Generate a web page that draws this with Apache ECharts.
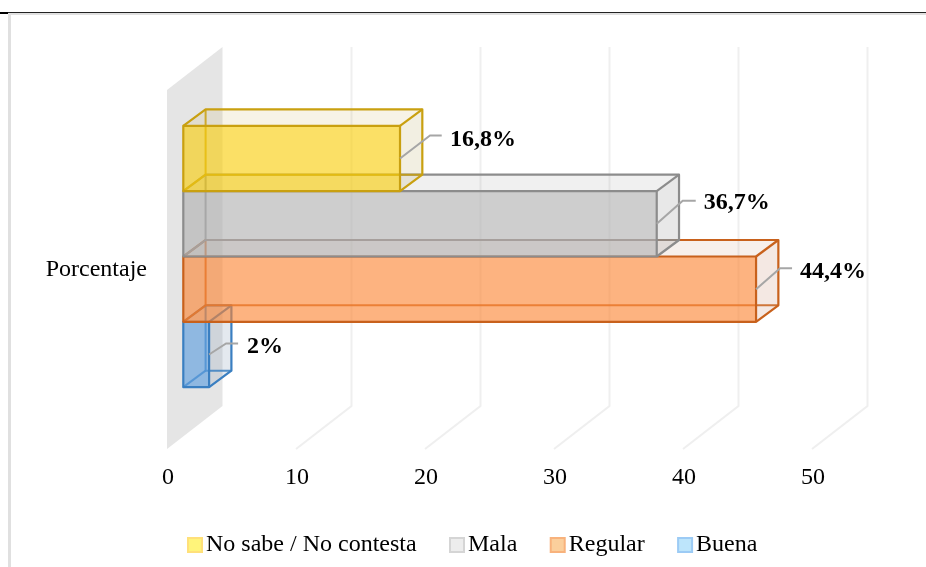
<!DOCTYPE html>
<html>
<head>
<meta charset="utf-8">
<style>html,body{margin:0;padding:0;background:#fff}#c{width:926px;height:567px}</style>
<script src="https://cdn.jsdelivr.net/npm/echarts@6/dist/echarts.min.js"></script>
</head>
<body>
<div id="c"></div>
<script>
const categories = ['Porcentaje'];
const seriesNames = ['No sabe / No contesta', 'Mala', 'Regular', 'Buena'];
const seriesValues = [16.8, 36.7, 44.4, 2];
const valueLabels = ['16,8%', '36,7%', '44,4%', '2%'];
const tickValues = [0, 10, 20, 30, 40, 50];

const looks = [
  {front:'rgba(248,205,8,.62)',  top:'rgba(190,160,60,.13)', side:'rgba(170,150,60,.15)', edge:'#C9A010', lg:'#FFF47A', lgb:'#FFE07A'},
  {front:'rgba(176,176,176,.62)',top:'rgba(150,150,150,.14)',side:'rgba(130,130,130,.18)', edge:'#8C8C8C', lg:'#EDEDED', lgb:'#D5D5D5'},
  {front:'rgba(251,132,50,.62)', top:'rgba(190,130,100,.12)',side:'rgba(190,120,90,.17)', edge:'#C8611C', lg:'#FBCF9C', lgb:'#F8B27C'},
  {front:'rgba(90,156,222,.62)', top:'rgba(110,140,170,.14)',side:'rgba(110,140,170,.19)',edge:'#3A7FC1', lg:'#BDE5FB', lgb:'#9CCBF5'}
];
// leader line geometry per label: elbow dx, elbow dy, end dx, text dx, text dy (relative to the bar's front right edge, mid height)
const leaders = [
  [30, -23, 41.7, 50, -19],
  [26, -23, 39, 47, -21],
  [24, -21, 36, 44, -17],
  [17, -11, 29, 38, -8]
];
const WALL = [55.5, -43], FRONT = [16.3, -13], BACK = [38.6, -29.5];
const BAND = 0.182;

function renderFrame(params, api) {
  const v = api.value(0);
  const p = api.coord([v, 0]);
  const s = api.size([0, 1]);
  const yb = p[1] + s[1] / 2, yt = p[1] - s[1] / 2;
  const x = p[0];
  if (v === 0) {
    return {type: 'polygon', silent: true, shape: {points: [[x, yb], [x + WALL[0], yb + WALL[1]], [x + WALL[0], yt + WALL[1]], [x, yt]]}, style: {fill: '#E5E5E5'}};
  }
  return {type: 'polyline', silent: true, shape: {points: [[x, yb], [x + WALL[0], yb + WALL[1]], [x + WALL[0], yt + WALL[1]]]}, style: {fill: 'none', stroke: '#EFEFEF', lineWidth: 2}};
}

function makeBox(i) {
  return function (params, api) {
    const o = api.coord([0, 0]);
    const e = api.coord([api.value(0), 0]);
    const h = api.size([0, 1])[1] * BAND;
    const L = looks[i], ld = leaders[i];
    const x0 = o[0] + FRONT[0], x1 = e[0] + FRONT[0];
    const y0 = o[1] + FRONT[1] + (i - 2) * h, y1 = y0 + h;
    const dx = BACK[0] - FRONT[0], dy = BACK[1] - FRONT[1];
    const edge = {fill: 'none', stroke: L.edge, lineWidth: 2.2, lineJoin: 'round'};
    const thin = {fill: 'none', stroke: L.edge, lineWidth: 2, opacity: .85};
    const ym = y0 + h / 2;
    return {type: 'group', children: [
      {type: 'polygon', silent: true, shape: {points: [[x0, y0], [x0 + dx, y0 + dy], [x1 + dx, y0 + dy], [x1, y0]]}, style: {fill: L.top}},
      {type: 'polygon', silent: true, shape: {points: [[x1, y0], [x1 + dx, y0 + dy], [x1 + dx, y1 + dy], [x1, y1]]}, style: {fill: L.side}},
      {type: 'polyline', silent: true, shape: {points: [[x0 + dx, y0 + dy], [x0 + dx, y1 + dy], [x1 + dx, y1 + dy]]}, style: thin},
      {type: 'line', silent: true, shape: {x1: x0, y1: y1, x2: x0 + dx, y2: y1 + dy}, style: thin},
      {type: 'rect', silent: true, shape: {x: x0, y: y0, width: x1 - x0, height: h}, style: {fill: L.front}},
      {type: 'polyline', silent: true, shape: {points: [[x0, y0], [x0 + dx, y0 + dy], [x1 + dx, y0 + dy], [x1 + dx, y1 + dy], [x1, y1]]}, style: edge},
      {type: 'line', silent: true, shape: {x1: x1, y1: y0, x2: x1 + dx, y2: y0 + dy}, style: edge},
      {type: 'rect', silent: true, shape: {x: x0, y: y0, width: x1 - x0, height: h}, style: edge},
      {type: 'polyline', silent: true, shape: {points: [[x1, ym], [x1 + ld[0], ym + ld[1]], [x1 + ld[2], ym + ld[1]]]}, style: {fill: 'none', stroke: '#A6A6A6', lineWidth: 2}},
      {type: 'text', silent: true, x: x1 + ld[3], y: ym + ld[4], style: {text: valueLabels[i], fill: '#000', font: 'bold 24px "Liberation Serif"', textAlign: 'left', textVerticalAlign: 'middle'}}
    ]};
  };
}

const chart = echarts.init(document.getElementById('c'), null, {renderer: 'canvas'});
const boxes = seriesNames.map((name, i) => ({
  name, type: 'custom', coordinateSystem: 'cartesian2d', z: 10 - i,
  renderItem: makeBox(i),
  encode: {x: 0, y: 1},
  itemStyle: {color: looks[i].lg, borderColor: looks[i].lgb, borderWidth: 1.5},
  data: [[seriesValues[i], 0]]
}));

chart.setOption({
  animation: false,
  backgroundColor: '#fff',
  textStyle: {fontFamily: '"Liberation Serif"'},
  grid: {left: 167, top: 90, width: 645, height: 359, containLabel: false},
  xAxis: {
    type: 'value', min: 0, max: 50, interval: 10,
    axisLine: {show: false}, axisTick: {show: false}, splitLine: {show: false},
    axisLabel: {color: '#000', fontSize: 24, fontFamily: '"Liberation Serif"', margin: 17, padding: [0, 0, 0, 2]}
  },
  yAxis: {
    type: 'category', data: categories,
    axisLine: {show: false}, axisTick: {show: false}, splitLine: {show: false},
    axisLabel: {color: '#000', fontSize: 24, fontFamily: '"Liberation Serif"', margin: 20, padding: [9, 0, 0, 0]}
  },
  legend: {
    left: 187, top: 533, itemWidth: 14, itemHeight: 14, itemGap: 32.4,
    icon: 'rect', padding: 0,
    data: seriesNames,
    selectedMode: false,
    textStyle: {color: '#000', fontSize: 24, fontFamily: '"Liberation Serif"', padding: [0, 0, 0, -1]}
  },
  graphic: [
    {type: 'rect', silent: true, shape: {x: 0, y: 12, width: 926, height: 1}, style: {fill: '#222'}},
    {type: 'rect', silent: true, shape: {x: 0, y: 12, width: 8, height: 2}, style: {fill: '#000'}},
    {type: 'rect', silent: true, shape: {x: 8, y: 13, width: 918, height: 2}, style: {fill: '#E0E0E0'}},
    {type: 'rect', silent: true, shape: {x: 8, y: 13, width: 3, height: 554}, style: {fill: '#E0E0E0'}}
  ],
  series: [
    {type: 'custom', coordinateSystem: 'cartesian2d', z: 1, renderItem: renderFrame, encode: {x: 0}, data: tickValues.map(t => [t, 0]), tooltip: {show: false}}
  ].concat(boxes)
});
</script>
</body>
</html>
